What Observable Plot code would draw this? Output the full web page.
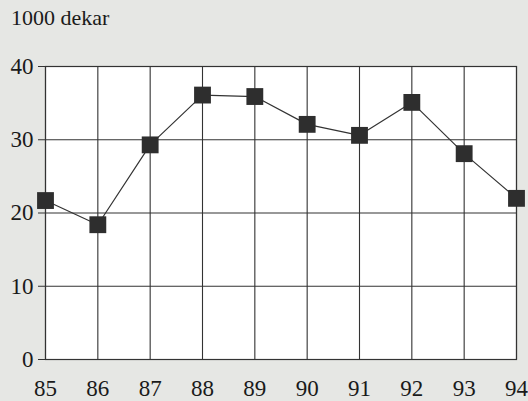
<!DOCTYPE html>
<html>
<head>
<meta charset="utf-8">
<script src="https://cdn.jsdelivr.net/npm/d3@7"></script>
<script src="https://cdn.jsdelivr.net/npm/@observablehq/plot@0.6"></script>
<style>
  html, body { margin: 0; padding: 0; background: #e6e7e4; }
  #wrap { position: relative; width: 528px; height: 401px; }
  #unit { position: absolute; left: 11px; top: 7px; font-family: "Liberation Serif", serif; font-size: 22px; color: #1a1a1a; line-height: 1; }
  #chart { position: absolute; left: 0; top: 0; width: 528px; height: 401px; }
</style>
</head>
<body>
<div id="wrap">
  <div id="chart"></div>
  <div id="unit"></div>
</div>
<script>
const years = [85, 86, 87, 88, 89, 90, 91, 92, 93, 94];
const values = [21.7, 18.4, 29.3, 36.1, 35.9, 32.1, 30.6, 35.1, 28.1, 22.0];
const yTicks = [0, 10, 20, 30, 40];
const unitLabel = "1000 dekar";

const data = years.map((y, i) => ({year: y, value: values[i]}));
document.getElementById("unit").textContent = unitLabel;

const chart = Plot.plot({
  width: 528,
  height: 401,
  marginLeft: 45,
  marginRight: 12,
  marginTop: 66,
  marginBottom: 42,
  style: {background: "transparent", fontSize: "23px", color: "#1a1a1a", fontFamily: "Liberation Serif"},
  x: {domain: [85, 94], ticks: years, tickFormat: d => String(d), label: null},
  y: {domain: [0, 40], ticks: yTicks, label: null},
  marks: [
    Plot.frame({fill: "white", stroke: "none"}),
    Plot.gridX(years, {stroke: "#333", strokeOpacity: 1, strokeWidth: 1.1}),
    Plot.gridY(yTicks, {stroke: "#333", strokeOpacity: 1, strokeWidth: 1.1}),
    Plot.frame({stroke: "#333", strokeWidth: 1.2}),
    Plot.axisX({ticks: years, tickSize: 0, tickPadding: 20, fontSize: 23, fontFamily: "Liberation Serif", tickFormat: d => String(d)}),
    Plot.axisY({ticks: yTicks, tickSize: 7, tickPadding: 5, fontSize: 23, fontFamily: "Liberation Serif", stroke: "#333"}),
    Plot.line(data, {x: "year", y: "value", stroke: "#333", strokeWidth: 1.2}),
    Plot.dot(data, {x: "year", y: "value", symbol: "square", r: 9.5, fill: "#2e2e2e", stroke: "none"})
  ]
});
document.getElementById("chart").appendChild(chart);
</script>
</body>
</html>
